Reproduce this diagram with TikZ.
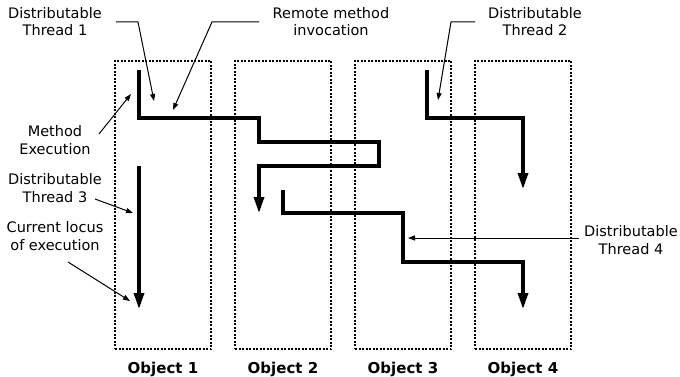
\documentclass[tikz,border=0pt]{standalone}
\usepackage{fontspec}
\setmainfont{DejaVu Sans}
\usetikzlibrary{arrows.meta, positioning}

\begin{document}
\begin{tikzpicture}[
  x=1pt, y=-1pt,
  node distance=24pt,
  obj/.style={rectangle, draw, line width=2pt, dash pattern=on 2pt off 1.5pt, minimum width=96pt, minimum height=288pt, inner sep=0pt, outer sep=0pt},
  objlabel/.style={font=\fontsize{15}{18}\selectfont\bfseries, inner sep=0pt},
  note/.style={align=center, font=\fontsize{14.5}{17.5}\selectfont, inner sep=0pt},
  thread/.style={line width=3.2pt, -{Triangle[length=16pt, width=10pt]}},
  lead/.style={line width=1pt, -{Triangle[length=7pt, width=5pt]}},
]
  \useasboundingbox (0,0) rectangle (680,377);

  % objects
  \node[obj] (obj1) at (163,205) {};
  \node[obj, right=of obj1] (obj2) {};
  \node[obj, right=of obj2] (obj3) {};
  \node[obj, right=of obj3] (obj4) {};
  \foreach \i in {1,...,4}
    \node[objlabel, below=12.5pt of obj\i] (lbl\i) {Object \i};

  % threads
  \coordinate (t1s) at (139,70);  \coordinate (t1e) at (259,213);
  \coordinate (t2s) at (427,70);  \coordinate (t2e) at (523,189);
  \coordinate (t3s) at (139,166); \coordinate (t3e) at (139,309);
  \coordinate (t4s) at (283,190); \coordinate (t4e) at (523,309);

  \draw[thread] (t1s) |- (259,118) |- (379,142) |- (259,166) -- (t1e);
  \draw[thread] (t2s) |- (t2e |- 0,118) -- (t2e);
  \draw[thread] (t3s) -- (t3e);
  \draw[thread] (t4s) |- (403,213) |- (523,262) -- (t4e);

  % labels
  \node[note] (dt1) at (55,21.5) {Distributable\\Thread 1};
  \node[note] (rmi) at (331,21.5) {Remote method\\invocation};
  \node[note] (dt2) at (535,21.5) {Distributable\\Thread 2};
  \node[note] (mex) at (55,140) {Method\\Execution};
  \node[note] (dt3) at (55,188) {Distributable\\Thread 3};
  \node[note] (cur) at (55,236) {Current locus\\of execution};
  \node[note] (dt4) at (631,240) {Distributable\\Thread 4};

  % leader ends
  \coordinate (dt1tip) at (154,101);
  \coordinate (rmitip) at (173,110);
  \coordinate (dt2tip) at (438,100);
  \coordinate (mexs) at (99,134);  \coordinate (mextip) at (131,94);
  \coordinate (dt3s) at (95,199);  \coordinate (dt3tip) at (133,213);
  \coordinate (curs) at (68,262);  \coordinate (curtip) at (130,301);
  \coordinate (dt4s) at (579,238); \coordinate (dt4tip) at (408,238);

  \draw[lead] (116,22) -- (138,22) -- (dt1tip);
  \draw[lead] (259,22) -- (212,22) -- (rmitip);
  \draw[lead] (475,22) -- (451,22) -- (dt2tip);
  \draw[lead] (mexs) -- (mextip);
  \draw[lead] (dt3s) -- (dt3tip);
  \draw[lead] (curs) -- (curtip);
  \draw[lead] (dt4s) -- (dt4tip);
\end{tikzpicture}
\end{document}
